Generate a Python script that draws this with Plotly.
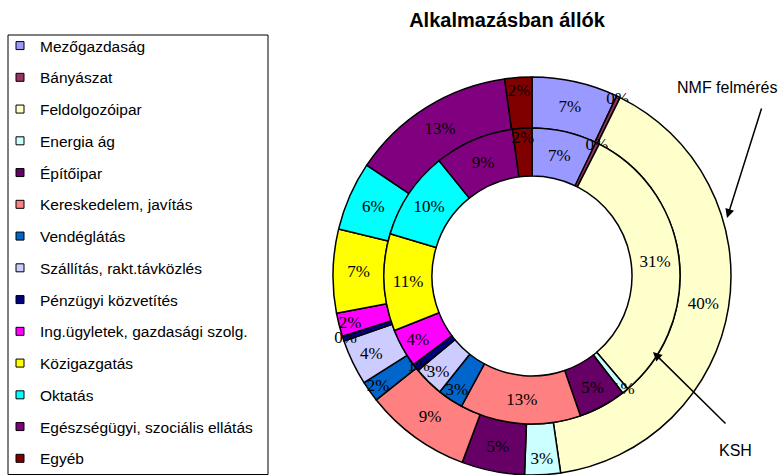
import plotly.graph_objects as go

categories = ["Mezőgazdaság", "Bányászat", "Feldolgozóipar", "Energia ág", "Építőipar",
              "Kereskedelem, javítás", "Vendéglátás", "Szállítás, rakt.távközlés",
              "Pénzügyi közvetítés", "Ing.ügyletek, gazdasági szolg.", "Közigazgatás",
              "Oktatás", "Egészségügyi, szociális ellátás", "Egyéb"]
nmf_values = [7.0, 0.3, 40.4, 2.9, 5.1, 8.6, 1.7, 3.7, 0.4, 1.9, 6.8, 5.6, 13.4, 2.2]
ksh_values = [7.1, 0.4, 31.3, 0.7, 5.2, 13.2, 2.8, 3.3, 0.8, 4.2, 10.6, 9.6, 8.7, 2.1]
colors = ["#9999FF", "#993366", "#FFFFCC", "#CCFFFF", "#660066", "#FF8080", "#0066CC",
          "#CCCCFF", "#000080", "#FF00FF", "#FFFF00", "#00FFFF", "#800080", "#800000"]
title_text = "Alkalmazásban állók"
outer_name = "NMF felmérés"
inner_name = "KSH"

W, H = 783, 475


def px_x(x):
    return x / W


def px_y(y):
    return 1 - y / H


cx, cy = 532, 276
r_out, r_mid, r_hole = 199, 148, 100

fig = go.Figure()

common = dict(
    labels=categories, marker=dict(colors=colors, line=dict(color="black", width=1.5)),
    sort=False, direction="clockwise", rotation=0, textposition="inside",
    insidetextorientation="horizontal", texttemplate="%{percent:.0%}",
    textfont=dict(family="Liberation Serif", size=17, color="black"),
    showlegend=False, hoverinfo="label+percent+name",
)

fig.add_trace(go.Pie(
    values=nmf_values, name=outer_name, hole=r_mid / r_out,
    domain=dict(x=[px_x(cx - r_out), px_x(cx + r_out)], y=[px_y(cy + r_out), px_y(cy - r_out)]),
    **common))
fig.add_trace(go.Pie(
    values=ksh_values, name=inner_name, hole=r_hole / r_mid,
    domain=dict(x=[px_x(cx - r_mid), px_x(cx + r_mid)], y=[px_y(cy + r_mid), px_y(cy - r_mid)]),
    **common))

for cat, col in zip(categories, colors):
    fig.add_trace(go.Scatter(
        x=[None], y=[None], mode="markers", name=cat, legendgroup=cat,
        marker=dict(symbol="square", size=8, color=col, line=dict(color="black", width=1)),
        showlegend=True, hoverinfo="skip"))

fig.update_layout(
    width=W, height=H, margin=dict(l=0, r=0, t=0, b=0),
    paper_bgcolor="white", plot_bgcolor="white",
    xaxis=dict(visible=False), yaxis=dict(visible=False),
    title=dict(text="<b>" + title_text + "</b>", x=px_x(507), xanchor="center",
               y=px_y(20), yanchor="middle", xref="paper", yref="paper",
               font=dict(family="Liberation Sans", size=20, color="black")),
    legend=dict(x=0, y=px_y(40), xanchor="left", yanchor="top", maxheight=1.0,
                borderwidth=0, bgcolor="rgba(0,0,0,0)",
                traceorder="grouped", tracegroupgap=8.6,
                font=dict(family="Liberation Sans", size=15.5, color="black")),
    uniformtext=dict(minsize=17, mode="show"),
    shapes=[dict(type="rect", xref="paper", yref="paper",
                 x0=px_x(8), x1=px_x(268), y0=px_y(474.5), y1=px_y(35),
                 line=dict(color="black", width=1), fillcolor="rgba(0,0,0,0)", layer="below")],
    annotations=[
        dict(text=outer_name, x=px_x(727), y=px_y(88), xref="paper", yref="paper",
             xanchor="center", yanchor="middle",
             showarrow=False, font=dict(family="Liberation Sans", size=16, color="black")),
        dict(text="", x=px_x(727), y=px_y(218), xref="paper", yref="paper",
             showarrow=True, ax=35, ay=-111, arrowhead=2, arrowsize=1.2, arrowwidth=1.5,
             arrowcolor="black"),
        dict(text=inner_name, x=px_x(735), y=px_y(450), xref="paper", yref="paper",
             xanchor="center", yanchor="middle",
             showarrow=False, font=dict(family="Liberation Sans", size=16, color="black")),
        dict(text="", x=px_x(653), y=px_y(352), xref="paper", yref="paper",
             showarrow=True, ax=74, ay=73, arrowhead=2, arrowsize=1.2, arrowwidth=1.5,
             arrowcolor="black"),
    ],
)

fig.write_html("out.html", config={"displayModeBar": False},
               post_script="document.body.style.margin='0';")
